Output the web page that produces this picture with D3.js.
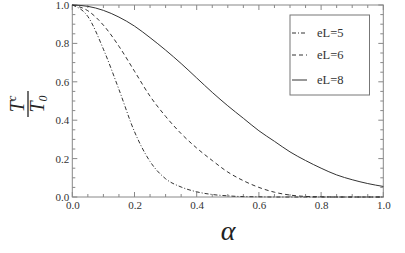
<!DOCTYPE html>
<html><head><meta charset="utf-8">
<script src="https://cdn.jsdelivr.net/npm/d3@7"></script>
<style>body{margin:0;background:#fff}svg{display:block}</style>
</head><body>
<script>
const alphas = [0,0.05,0.10,0.15,0.20,0.25,0.30,0.35,0.40,0.45,0.50,0.55,0.60,0.65,0.70,0.75,0.80,0.85,0.90,0.95,1.00];
const eL5 = [1.0,0.94,0.77,0.56,0.34,0.185,0.095,0.052,0.027,0.013,0.006,0.002,0.001,0,0,0,0,0,0,0,0];
const eL6 = [1.0,0.97,0.895,0.785,0.655,0.525,0.42,0.33,0.255,0.19,0.13,0.085,0.05,0.025,0.01,0.003,0.001,0,0,0,0];
const eL8 = [1.0,0.993,0.972,0.937,0.89,0.83,0.765,0.695,0.62,0.545,0.475,0.41,0.345,0.29,0.235,0.19,0.15,0.115,0.09,0.07,0.055];
const seriesNames = ["eL=5","eL=6","eL=8"];
const dashes = ["4,2,1,2","4,3",null];
const ticks = [0,0.2,0.4,0.6,0.8,1.0];

const SERIF="Liberation Serif";
const W=405,H=253;
const svg=d3.select("body").append("svg").attr("width",W).attr("height",H);
const x=d3.scaleLinear().domain([0,1]).range([72.3,383.3]);
const y=d3.scaleLinear().domain([0,1]).range([197,5]);
const axisCol="#888";
const minor=d3.range(0,1.0001,0.05);

svg.append("rect").attr("x",x(0)).attr("y",y(1)).attr("width",x(1)-x(0)).attr("height",y(0)-y(1))
  .attr("fill","none").attr("stroke",axisCol).attr("stroke-width",1);

function isMajor(v){return Math.abs(v*5-Math.round(v*5))<1e-6;}
const tg=svg.append("g").attr("stroke",axisCol).attr("stroke-width",1);
minor.forEach(v=>{
  const L=isMajor(v)?5:3;
  tg.append("line").attr("x1",x(v)).attr("x2",x(v)).attr("y1",y(0)).attr("y2",y(0)-L);
  tg.append("line").attr("x1",x(v)).attr("x2",x(v)).attr("y1",y(1)).attr("y2",y(1)+L);
  tg.append("line").attr("y1",y(v)).attr("y2",y(v)).attr("x1",x(0)).attr("x2",x(0)+L);
  tg.append("line").attr("y1",y(v)).attr("y2",y(v)).attr("x1",x(1)).attr("x2",x(1)-L);
});
const xa=svg.append("g").attr("transform",`translate(0,${y(0)})`)
  .call(d3.axisBottom(x).tickValues(ticks).tickFormat(d3.format(".1f")).tickSize(0).tickPadding(4));
const ya=svg.append("g").attr("transform",`translate(${x(0)},0)`)
  .call(d3.axisLeft(y).tickValues(ticks).tickFormat(d3.format(".1f")).tickSize(0).tickPadding(3));
[xa,ya].forEach(g=>{g.select(".domain").remove();
  g.selectAll("text").style("font-family",SERIF).style("font-size","11px").attr("fill","#333");});

const data=[eL5,eL6,eL8];
const line=d3.line().x((d,i)=>x(alphas[i])).y(d=>y(d)).curve(d3.curveMonotoneX);
data.forEach((s,k)=>{
  svg.append("path").attr("d",line(s)).attr("fill","none").attr("stroke","#333")
    .attr("stroke-width",1).attr("stroke-dasharray",dashes[k]);
});

svg.append("rect").attr("x",290).attr("y",15).attr("width",79.5).attr("height",80)
  .attr("fill","#fff").attr("stroke","#777").attr("stroke-width",1);
const ly=[33,55,80];
seriesNames.forEach((n,k)=>{
  svg.append("line").attr("x1",292).attr("x2",307).attr("y1",ly[k]).attr("y2",ly[k])
    .attr("stroke","#333").attr("stroke-width",1).attr("stroke-dasharray",dashes[k]);
  svg.append("text").attr("x",317).attr("y",ly[k]+4).text(n)
    .style("font-family",SERIF).style("font-size","12.5px").attr("fill","#333");
});

svg.append("text").attr("x",228).attr("y",240).attr("text-anchor","middle")
  .style("font-family",SERIF).style("font-style","italic").style("font-size","28px").attr("fill","#222").text("α");

const yl=svg.append("g").attr("transform","translate(28,104) rotate(-90)");
const num=yl.append("text").attr("x",0).attr("y",-4).attr("text-anchor","middle")
  .style("font-family",SERIF).style("font-style","italic").style("font-size","20px").attr("fill","#222");
num.append("tspan").text("T");
num.append("tspan").style("font-size","12px").attr("dy",-8).text("c");
yl.append("line").attr("x1",-13).attr("x2",13).attr("y1",0).attr("y2",0).attr("stroke","#222").attr("stroke-width",1.3);
const den=yl.append("text").attr("x",0).attr("y",16).attr("text-anchor","middle")
  .style("font-family",SERIF).style("font-style","italic").style("font-size","20px").attr("fill","#222");
den.append("tspan").text("T");
den.append("tspan").style("font-size","12px").attr("dy",3).text("0");
</script>
</body></html>
